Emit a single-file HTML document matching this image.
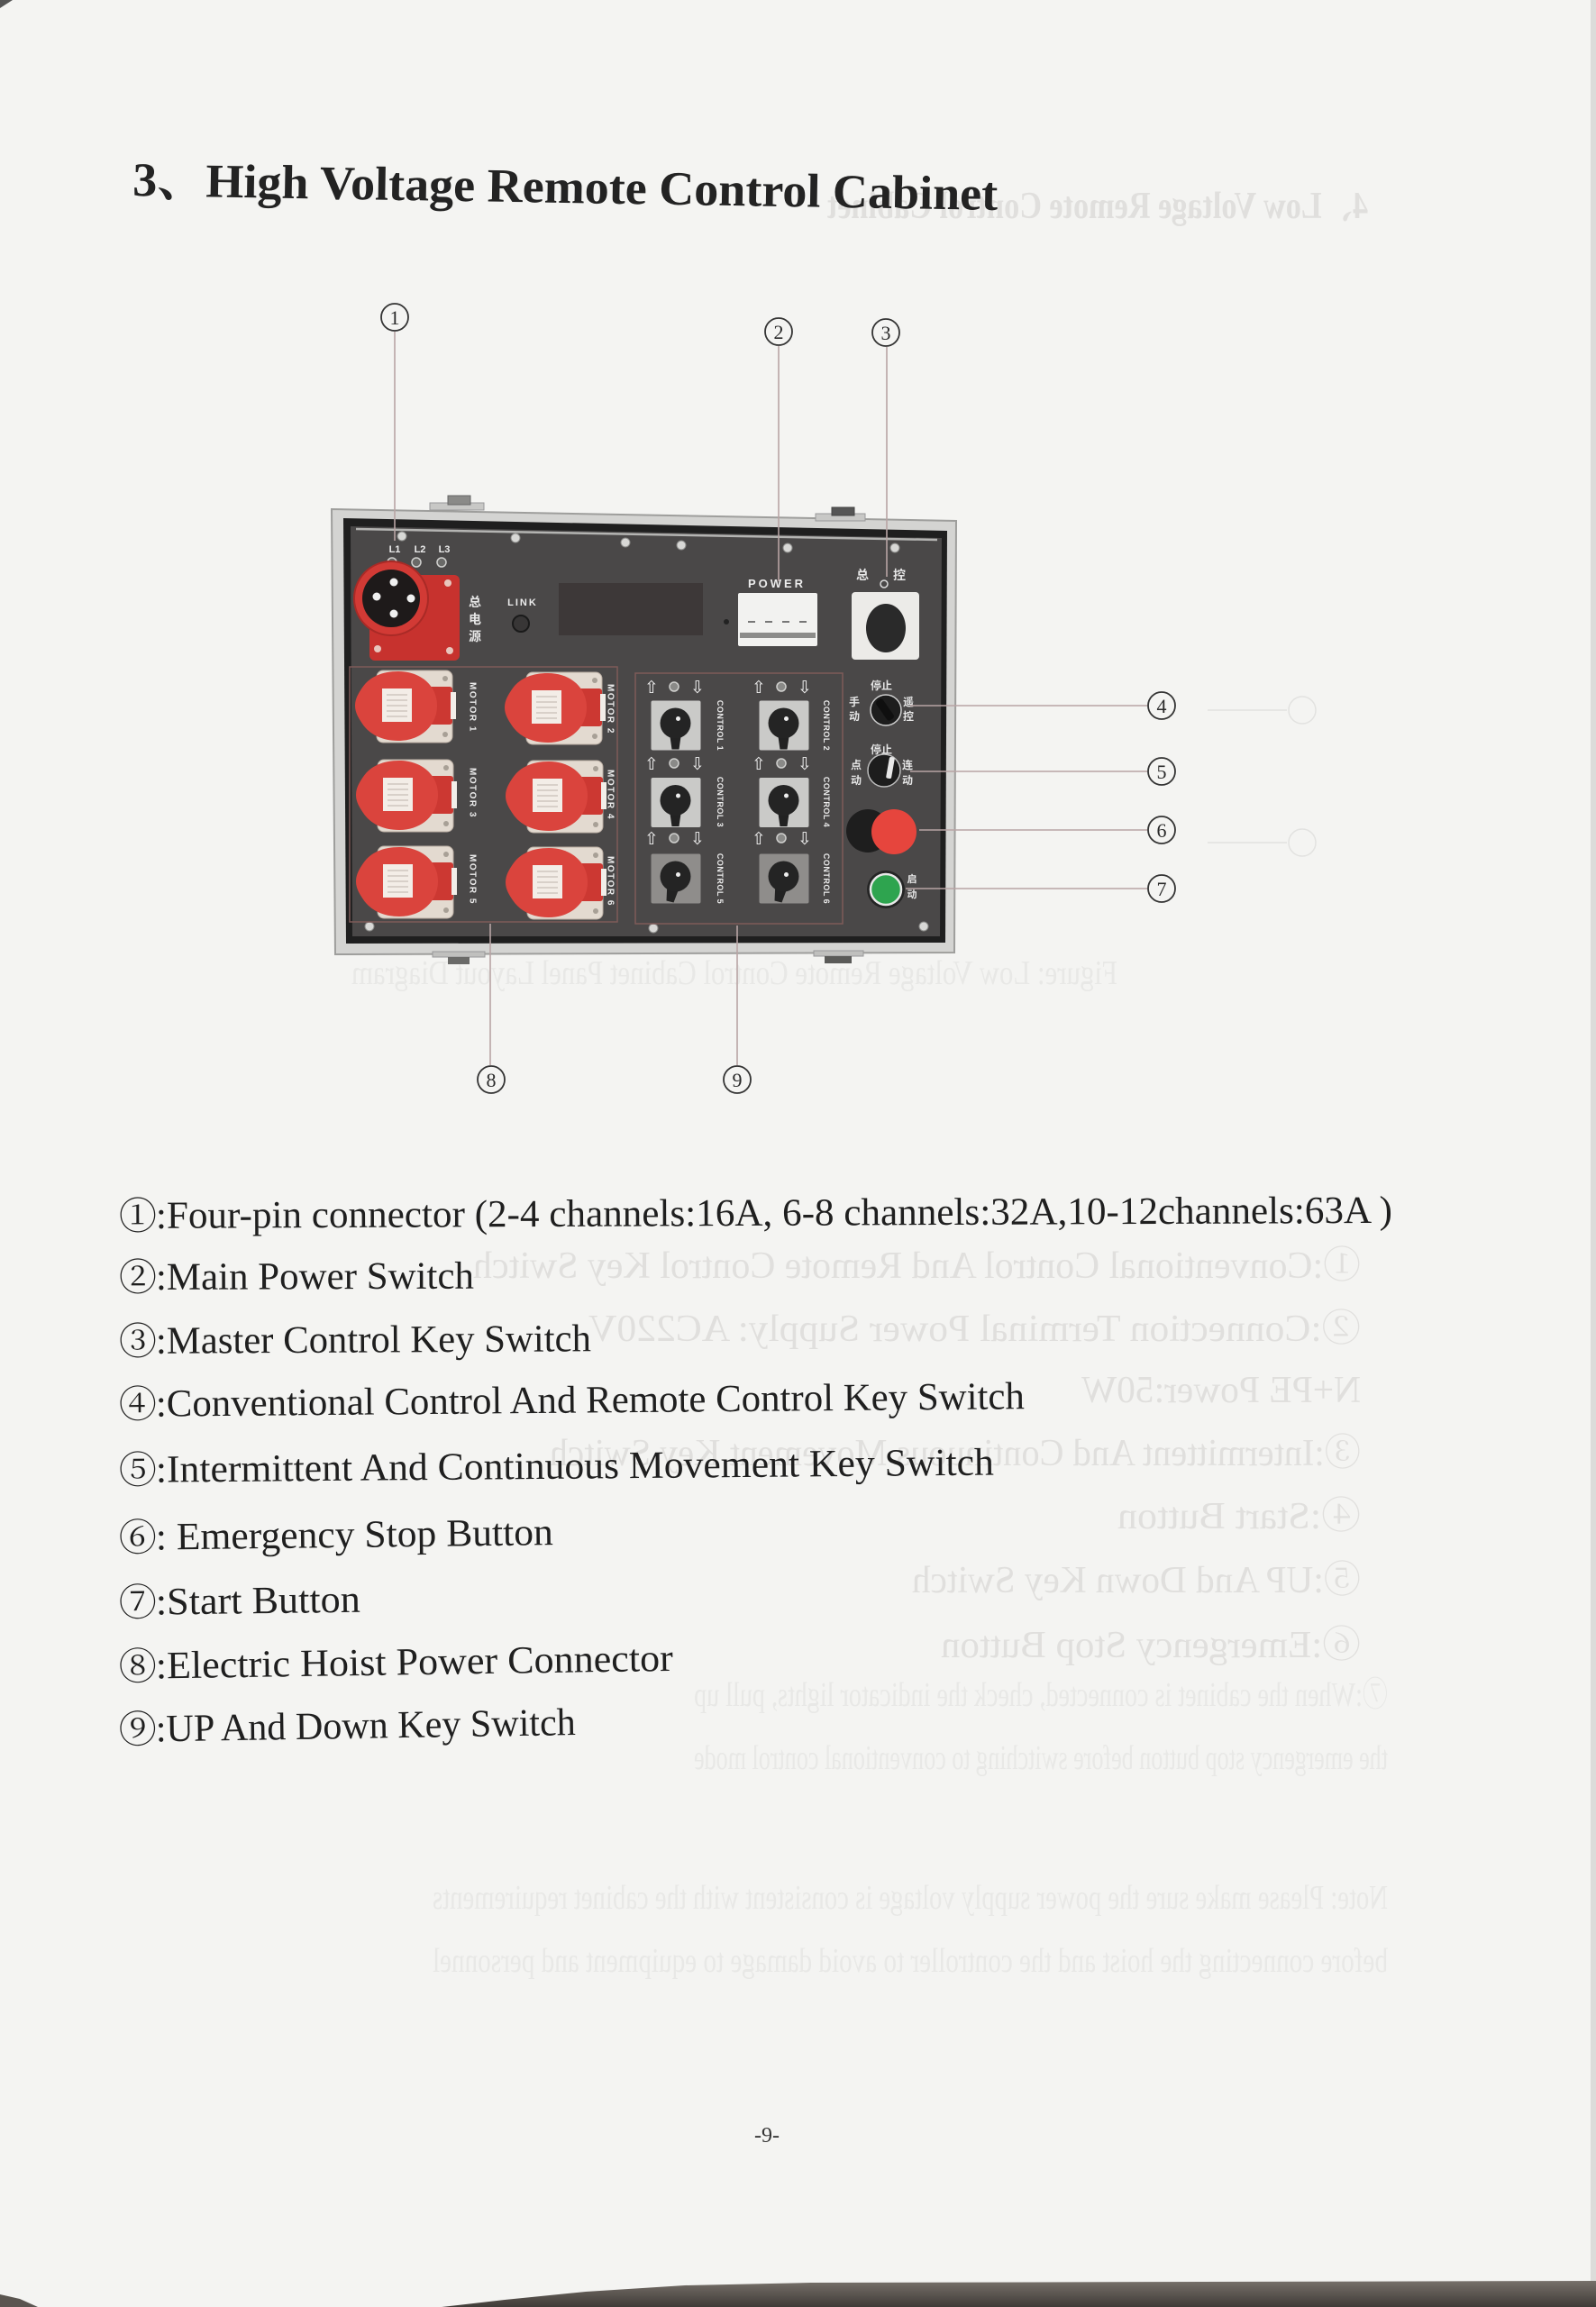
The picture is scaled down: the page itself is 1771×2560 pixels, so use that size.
<!DOCTYPE html>
<html>
<head>
<meta charset="utf-8">
<style>
html,body{margin:0;padding:0;background:#f4f4f2;}
svg{display:block;}
.w{fill:#ececec;font-family:"Liberation Sans",sans-serif;font-weight:bold;}
.cj{fill:#e6e6e6;font-family:"Liberation Sans","Noto Sans CJK SC",sans-serif;font-weight:bold;}
.lt{font-family:"Liberation Serif","Noto Serif CJK SC",serif;fill:#1f1f1f;font-size:43px;}
.cd{font-family:"Noto Serif CJK SC","Noto Sans CJK SC",serif;fill:#1f1f1f;font-size:42px;}
.gh{font-family:"Liberation Serif","Noto Serif CJK SC",serif;fill:#e0dfdd;font-size:42px;}
.gh2{font-family:"Liberation Serif","Noto Serif CJK SC",serif;fill:#e8e8e6;font-size:38px;}
.cn{font-family:"Liberation Serif",serif;font-size:22px;fill:#2a2a2a;text-anchor:middle;}
</style>
</head>
<body>
<svg width="1771" height="2560" viewBox="0 0 1771 2560" xmlns="http://www.w3.org/2000/svg">
<defs>
  <linearGradient id="bot" x1="0" y1="0" x2="0" y2="1">
    <stop offset="0" stop-color="#77706a"/>
    <stop offset="1" stop-color="#3f3b37"/>
  </linearGradient>
  <g id="sock">
    <rect x="-22" y="-39" width="84" height="80" rx="7" fill="#e3dad0" stroke="#b9ada2" stroke-width="1"/>
    <circle cx="54" cy="-30" r="3" fill="#a8a096"/>
    <circle cx="54" cy="32" r="3" fill="#a8a096"/>
    <rect x="32" y="-21" width="30" height="42" rx="3" fill="#cc3832"/>
    <rect x="60" y="-15" width="6" height="30" fill="#f2eee9"/>
    <path d="M-46,0 C-46,-8 -42,-14 -38,-20 C-30,-32 -16,-38 2,-38 C27,-38 45,-22 45,0 C45,22 27,39 2,39 C-16,39 -30,32 -38,20 C-42,14 -46,8 -46,0 Z" fill="#da443d"/>
    <rect x="-16" y="-19" width="33" height="37" fill="#f3ede7"/>
    <g stroke="#bdb4ab" stroke-width="1">
      <line x1="-11" y1="-12" x2="12" y2="-12"/>
      <line x1="-11" y1="-6" x2="12" y2="-6"/>
      <line x1="-11" y1="0" x2="12" y2="0"/>
      <line x1="-11" y1="6" x2="12" y2="6"/>
      <line x1="-11" y1="12" x2="12" y2="12"/>
    </g>
  </g>
  <g id="sw">
    <rect x="-27" y="-27" width="55" height="55" rx="2" fill="#cacac8"/>
    <path d="M-7,6 L7,6 L4,27 L-4,27 Z" fill="#222"/>
    <circle cx="0" cy="-2" r="17" fill="#242424"/>
    <circle cx="3" cy="-7" r="2.5" fill="#eee"/>
  </g>
  <g id="sw3">
    <rect x="-27" y="-27" width="55" height="55" rx="2" fill="#8f8d8b"/>
    <path d="M-9,4 L6,6 L-2,27 L-10,25 Z" fill="#222"/>
    <circle cx="0" cy="-2" r="17" fill="#242424"/>
    <circle cx="3" cy="-4" r="2.5" fill="#eee"/>
  </g>
</defs>

<!-- page edges -->
<polygon points="0,0 14,0 0,9" fill="#555"/>
<rect x="1765" y="0" width="6" height="2560" fill="#dcdcda"/>
<polygon points="490,2560 560,2552 650,2543 760,2536 900,2533 1771,2531 1771,2560" fill="url(#bot)"/>
<polygon points="0,2546 22,2551 42,2560 0,2560" fill="#5a5550"/>

<!-- ghost (bleed-through) text -->
<g transform="translate(1518,0) scale(-1,1)">
  <text class="gh" x="0" y="242" font-size="46" font-weight="bold" textLength="600" lengthAdjust="spacingAndGlyphs">4、Low Voltage Remote Control Cabinet</text>
</g>
<g transform="translate(1510,0) scale(-1,1)">
  <text class="gh" x="0" y="1418" textLength="985" lengthAdjust="spacingAndGlyphs">①:Conventional Control And Remote Control Key Switch</text>
  <text class="gh" x="0" y="1488" textLength="857" lengthAdjust="spacingAndGlyphs">②:Connection Terminal Power Supply: AC220V</text>
  <text class="gh" x="0" y="1556" textLength="310" lengthAdjust="spacingAndGlyphs">N+PE Power:50W</text>
  <text class="gh" x="0" y="1626" textLength="900" lengthAdjust="spacingAndGlyphs">③:Intermittent And Continuous Movement Key Switch</text>
  <text class="gh" x="0" y="1696" textLength="270" lengthAdjust="spacingAndGlyphs">④:Start Button</text>
  <text class="gh" x="0" y="1767" textLength="498" lengthAdjust="spacingAndGlyphs">⑤:UP And Down Key Switch</text>
  <text class="gh" x="0" y="1839" textLength="466" lengthAdjust="spacingAndGlyphs">⑥:Emergency Stop Button</text>
</g>
<g transform="translate(1540,0) scale(-1,1)">
  <text class="gh2" x="0" y="1893" textLength="770" lengthAdjust="spacingAndGlyphs">⑦:When the cabinet is connected, check the indicator lights, pull up</text>
  <text class="gh2" x="0" y="1963" textLength="770" lengthAdjust="spacingAndGlyphs">the emergency stop button before switching to conventional control mode</text>
  <text class="gh2" x="0" y="2118" textLength="1060" lengthAdjust="spacingAndGlyphs">Note: Please make sure the power supply voltage is consistent with the cabinet requirements</text>
  <text class="gh2" x="0" y="2188" textLength="1060" lengthAdjust="spacingAndGlyphs">before connecting the hoist and the controller to avoid damage to equipment and personnel</text>
</g>
<g transform="translate(1240,0) scale(-1,1)">
  <text class="gh2" x="0" y="1092" font-size="26" textLength="850" lengthAdjust="spacingAndGlyphs">Figure: Low Voltage Remote Control Cabinet Panel Layout Diagram</text>
</g>
<g stroke="#e2e2e0" stroke-width="1.5" fill="none">
  <circle cx="1445" cy="788" r="15"/>
  <circle cx="1445" cy="935" r="15"/>
  <line x1="1340" y1="788" x2="1428" y2="788"/>
  <line x1="1340" y1="935" x2="1428" y2="935"/>
</g>

<!-- title -->
<text x="147" y="217" transform="rotate(0.95 147 217)" font-family="'Liberation Serif','Noto Serif CJK SC',serif" font-weight="bold" font-size="53" fill="#232323" textLength="960" lengthAdjust="spacingAndGlyphs">3、High Voltage Remote Control Cabinet</text>

<!-- cabinet frame -->
<polygon points="368,565 1061,578 1059,1057 372,1059" fill="#d4d4d2" stroke="#9e9e9c" stroke-width="2"/>
<polygon points="381,575 1051,589 1049,1046 384,1047" fill="#1f1f1f"/>
<polygon points="389,584 1045,597 1043,1039 391,1039" fill="#4a4848"/>
<line x1="395" y1="587" x2="1040" y2="599" stroke="#b4b4b2" stroke-width="2.5"/>

<!-- hinges -->
<rect x="477" y="558" width="60" height="8" fill="#c8c8c6" stroke="#999" stroke-width="1"/>
<rect x="497" y="550" width="25" height="10" fill="#8a8a88" stroke="#666" stroke-width="1"/>
<rect x="905" y="570" width="55" height="8" fill="#c8c8c6" stroke="#999" stroke-width="1"/>
<rect x="923" y="563" width="25" height="9" fill="#555" stroke="#444" stroke-width="1"/>
<rect x="480" y="1056" width="58" height="6" fill="#c0c0be" stroke="#999" stroke-width="1"/>
<rect x="497" y="1062" width="24" height="8" fill="#6a6a68"/>
<rect x="903" y="1055" width="55" height="6" fill="#c0c0be" stroke="#999" stroke-width="1"/>
<rect x="915" y="1061" width="30" height="8" fill="#5a5a58"/>

<!-- screws -->
<g fill="#d8d8d6" stroke="#8a8a88" stroke-width="1">
  <circle cx="446" cy="595" r="5"/><circle cx="572" cy="597" r="5"/><circle cx="694" cy="602" r="5"/>
  <circle cx="756" cy="605" r="5"/><circle cx="874" cy="608" r="5"/><circle cx="993" cy="608" r="5"/>
  <circle cx="410" cy="1028" r="5"/><circle cx="725" cy="1030" r="5"/><circle cx="1025" cy="1028" r="5"/>
</g>

<!-- L1 L2 L3 -->
<text class="w" x="438" y="613" font-size="11" text-anchor="middle">L1</text>
<text class="w" x="466" y="613" font-size="11" text-anchor="middle">L2</text>
<text class="w" x="493" y="613" font-size="11" text-anchor="middle">L3</text>
<g fill="#6a6a68" stroke="#d0d0ce" stroke-width="1.5">
  <circle cx="435" cy="624" r="5"/><circle cx="462" cy="624" r="5"/><circle cx="490" cy="624" r="5"/>
</g>

<!-- main 4-pin connector -->
<rect x="410" y="638" width="100" height="95" rx="6" fill="#c7322e"/>
<circle cx="434" cy="664" r="41" fill="#d23a35" stroke="#a92a26" stroke-width="2"/>
<circle cx="434" cy="664" r="32" fill="#1e1a1a"/>
<g fill="#f0f0f0">
  <circle cx="437" cy="646" r="4.5"/><circle cx="418" cy="662" r="4.5"/>
  <circle cx="456" cy="664" r="4.5"/><circle cx="437" cy="681" r="4.5"/>
</g>
<g fill="#e8c6bd"><circle cx="497" cy="647" r="4"/><circle cx="419" cy="720" r="4"/><circle cx="499" cy="722" r="4"/></g>
<text class="cj" x="527" y="673" font-size="14" text-anchor="middle">总</text>
<text class="cj" x="527" y="692" font-size="14" text-anchor="middle">电</text>
<text class="cj" x="527" y="711" font-size="14" text-anchor="middle">源</text>

<!-- LINK and display -->
<text class="w" x="580" y="672" font-size="11" text-anchor="middle" letter-spacing="2">LINK</text>
<circle cx="578" cy="692" r="9" fill="#383636" stroke="#1a1a1a" stroke-width="2"/>
<rect x="620" y="647" width="160" height="58" fill="#3d3838"/>

<!-- POWER breaker -->
<text class="w" x="862" y="652" font-size="13" text-anchor="middle" letter-spacing="3">POWER</text>
<rect x="819" y="658" width="88" height="59" rx="2" fill="#f2f2f0"/>
<g stroke="#777" stroke-width="2">
  <line x1="830" y1="690" x2="838" y2="690"/><line x1="849" y1="690" x2="857" y2="690"/>
  <line x1="868" y1="690" x2="876" y2="690"/><line x1="887" y1="690" x2="895" y2="690"/>
</g>
<rect x="821" y="702" width="84" height="6" fill="#8c8c8a"/>
<circle cx="806" cy="690" r="3" fill="#222"/>

<!-- master key -->
<text class="cj" x="957" y="643" font-size="14" text-anchor="middle">总</text>
<circle cx="981" cy="648" r="4" fill="none" stroke="#ddd" stroke-width="1.5"/>
<text class="cj" x="998" y="643" font-size="14" text-anchor="middle">控</text>
<rect x="945" y="657" width="75" height="75" rx="4" fill="#ecebe8"/>
<ellipse cx="983" cy="697" rx="22" ry="27" fill="#2a2a2a"/>

<!-- motor box -->
<rect x="388" y="740" width="297" height="283" fill="none" stroke="#7e5a58" stroke-width="1.5"/>
<use href="#sock" x="440" y="783"/>
<use href="#sock" x="606" y="785"/>
<use href="#sock" x="441" y="882"/>
<use href="#sock" x="607" y="883"/>
<use href="#sock" x="441" y="978"/>
<use href="#sock" x="607" y="979"/>
<g class="w" font-size="10" letter-spacing="1.5" text-anchor="middle">
  <text x="524" y="785" transform="rotate(90 524 785)" dominant-baseline="central">MOTOR 1</text>
  <text x="524" y="880" transform="rotate(90 524 880)" dominant-baseline="central">MOTOR 3</text>
  <text x="524" y="976" transform="rotate(90 524 976)" dominant-baseline="central">MOTOR 5</text>
  <text x="677" y="787" transform="rotate(90 677 787)" dominant-baseline="central">MOTOR 2</text>
  <text x="677" y="882" transform="rotate(90 677 882)" dominant-baseline="central">MOTOR 4</text>
  <text x="677" y="978" transform="rotate(90 677 978)" dominant-baseline="central">MOTOR 6</text>
</g>

<!-- control box -->
<rect x="705" y="747" width="230" height="278" fill="none" stroke="#7e5a58" stroke-width="1.5"/>
<g font-family="'DejaVu Sans',sans-serif" font-size="19" fill="#f0f0f0" text-anchor="middle">
  <text x="723" y="769">⇧</text><text x="774" y="769">⇩</text>
  <text x="842" y="769">⇧</text><text x="893" y="769">⇩</text>
  <text x="723" y="854">⇧</text><text x="774" y="854">⇩</text>
  <text x="842" y="854">⇧</text><text x="893" y="854">⇩</text>
  <text x="723" y="937">⇧</text><text x="774" y="937">⇩</text>
  <text x="842" y="937">⇧</text><text x="893" y="937">⇩</text>
</g>
<g fill="#8a8a88" stroke="#cfcfcd" stroke-width="1.5">
  <circle cx="748" cy="762" r="5"/><circle cx="867" cy="762" r="5"/>
  <circle cx="748" cy="847" r="5"/><circle cx="867" cy="847" r="5"/>
  <circle cx="748" cy="930" r="5"/><circle cx="867" cy="930" r="5"/>
</g>
<use href="#sw" x="749.5" y="804.5"/>
<use href="#sw" x="869.5" y="804.5"/>
<use href="#sw" x="749.5" y="890"/>
<use href="#sw" x="869.5" y="890"/>
<use href="#sw3" x="749.5" y="974.5"/>
<use href="#sw3" x="869.5" y="974.5"/>
<g class="w" font-size="9" letter-spacing="0.5" text-anchor="middle">
  <text x="799" y="805" transform="rotate(90 799 805)" dominant-baseline="central">CONTROL 1</text>
  <text x="917" y="805" transform="rotate(90 917 805)" dominant-baseline="central">CONTROL 2</text>
  <text x="799" y="890" transform="rotate(90 799 890)" dominant-baseline="central">CONTROL 3</text>
  <text x="917" y="890" transform="rotate(90 917 890)" dominant-baseline="central">CONTROL 4</text>
  <text x="799" y="975" transform="rotate(90 799 975)" dominant-baseline="central">CONTROL 5</text>
  <text x="917" y="975" transform="rotate(90 917 975)" dominant-baseline="central">CONTROL 6</text>
</g>

<!-- right column controls -->
<g class="cj" font-size="12" text-anchor="middle">
  <text x="978" y="765">停止</text>
  <text x="948" y="783">手</text><text x="948" y="799">动</text>
  <text x="1008" y="783">遥</text><text x="1008" y="799">控</text>
  <text x="978" y="836">停止</text>
  <text x="950" y="853">点</text><text x="950" y="870">动</text>
  <text x="1007" y="853">连</text><text x="1007" y="870">动</text>
  <text x="1012" y="979" font-size="11">启</text><text x="1012" y="996" font-size="11">动</text>
</g>
<circle cx="983" cy="788" r="17" fill="#1d1d1d" stroke="#cfcfcf" stroke-width="1.5"/>
<rect x="978" y="774" width="9" height="26" rx="3" fill="#0f0f0f" transform="rotate(-35 983 788)"/>
<circle cx="981" cy="855" r="18" fill="#1d1d1d" stroke="#bdbdbd" stroke-width="1.5"/>
<rect x="985" y="840" width="6" height="24" rx="2" fill="#e8e8e8" transform="rotate(10 988 852)"/>
<circle cx="963" cy="922" r="24" fill="#1e1e1e"/>
<circle cx="992" cy="923" r="25" fill="#e6453d"/>
<circle cx="983" cy="987" r="21" fill="#252525"/>
<circle cx="983" cy="987" r="17" fill="#2ea44f" stroke="#e8e8e8" stroke-width="2.5"/>

<!-- callout leader lines -->
<g stroke="#b8a4a4" stroke-width="1.6" fill="none">
  <line x1="438" y1="368" x2="438" y2="600"/>
  <line x1="864" y1="384" x2="864" y2="645"/>
  <line x1="984" y1="385" x2="984" y2="640"/>
  <line x1="1010" y1="783" x2="1273" y2="783"/>
  <line x1="1010" y1="856" x2="1273" y2="856"/>
  <line x1="1020" y1="921" x2="1273" y2="921"/>
  <line x1="1005" y1="986" x2="1273" y2="986"/>
  <line x1="544" y1="1025" x2="544" y2="1182"/>
  <line x1="818" y1="1027" x2="818" y2="1182"/>
</g>
<g stroke="#333" stroke-width="1.8" fill="#f4f4f2">
  <circle cx="438" cy="352" r="15"/><circle cx="864" cy="368" r="15"/><circle cx="983" cy="369" r="15"/>
  <circle cx="1289" cy="783" r="15"/><circle cx="1289" cy="856" r="15"/>
  <circle cx="1289" cy="921" r="15"/><circle cx="1289" cy="986" r="15"/>
  <circle cx="545" cy="1198" r="15"/><circle cx="818" cy="1198" r="15"/>
</g>
<text class="cn" x="438" y="360">1</text>
<text class="cn" x="864" y="376">2</text>
<text class="cn" x="983" y="377">3</text>
<text class="cn" x="1289" y="791">4</text>
<text class="cn" x="1289" y="864">5</text>
<text class="cn" x="1289" y="929">6</text>
<text class="cn" x="1289" y="994">7</text>
<text class="cn" x="545" y="1206">8</text>
<text class="cn" x="818" y="1206">9</text>

<!-- legend list -->
<g transform="rotate(-0.25 134 1363)">
  <text class="cd" x="132" y="1364">①</text>
  <text class="lt" x="173" y="1363" textLength="1372" lengthAdjust="spacingAndGlyphs">:Four-pin connector (2-4 channels:16A, 6-8 channels:32A,10-12channels:63A )</text>
</g>
<g transform="rotate(-0.2 134 1431)">
  <text class="cd" x="132" y="1432">②</text>
  <text class="lt" x="173" y="1431" textLength="353" lengthAdjust="spacingAndGlyphs">:Main Power Switch</text>
</g>
<g transform="rotate(-0.3 134 1502)">
  <text class="cd" x="132" y="1503">③</text>
  <text class="lt" x="173" y="1502" textLength="483" lengthAdjust="spacingAndGlyphs">:Master Control Key Switch</text>
</g>
<g transform="rotate(-0.5 134 1572)">
  <text class="cd" x="132" y="1573">④</text>
  <text class="lt" x="173" y="1572" textLength="964" lengthAdjust="spacingAndGlyphs">:Conventional Control And Remote Control Key Switch</text>
</g>
<g transform="rotate(-0.5 134 1645)">
  <text class="cd" x="132" y="1646">⑤</text>
  <text class="lt" x="173" y="1645" textLength="930" lengthAdjust="spacingAndGlyphs">:Intermittent And Continuous Movement Key Switch</text>
</g>
<g transform="rotate(-0.7 134 1720)">
  <text class="cd" x="132" y="1721">⑥</text>
  <text class="lt" x="173" y="1720" textLength="441" lengthAdjust="spacingAndGlyphs">: Emergency Stop Button</text>
</g>
<g transform="rotate(-0.7 134 1792)">
  <text class="cd" x="132" y="1793">⑦</text>
  <text class="lt" x="173" y="1792" textLength="227" lengthAdjust="spacingAndGlyphs">:Start Button</text>
</g>
<g transform="rotate(-0.85 134 1863)">
  <text class="cd" x="132" y="1864">⑧</text>
  <text class="lt" x="173" y="1863" textLength="574" lengthAdjust="spacingAndGlyphs">:Electric Hoist Power Connector</text>
</g>
<g transform="rotate(-0.9 134 1933)">
  <text class="cd" x="132" y="1934">⑨</text>
  <text class="lt" x="173" y="1933" textLength="466" lengthAdjust="spacingAndGlyphs">:UP And Down Key Switch</text>
</g>

<!-- page number -->
<text x="851" y="2377" font-family="'Liberation Serif',serif" font-size="24" fill="#333" text-anchor="middle">-9-</text>
</svg>
</body>
</html>
